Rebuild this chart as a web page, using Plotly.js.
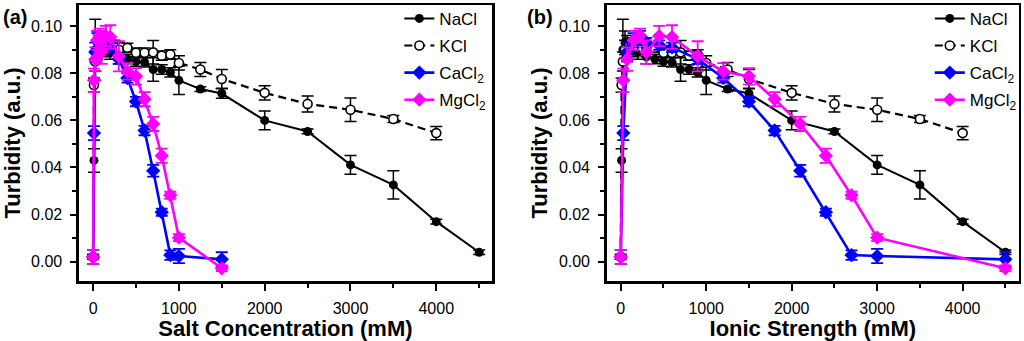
<!DOCTYPE html>
<html>
<head>
<meta charset="utf-8">
<script src="https://cdn.plot.ly/plotly-3.0.1.min.js"></script>
<style>html,body{margin:0;padding:0;background:#fff;}#chart{width:1024px;height:341px;}</style>
</head>
<body>
<div id="chart"></div>
<script>
// ---- Data ----
// NaCl (1:1 salt: ionic strength equals concentration)
const naclConc = [0, 10, 25, 50, 75, 100, 150, 200, 300, 400, 500, 600, 700, 800, 900, 1000, 1250, 1500, 2000, 2500, 3000, 3500, 4000, 4500];
const naclTurb = [0.002, 0.043, 0.090, 0.093, 0.092, 0.091, 0.090, 0.089, 0.087, 0.086, 0.085, 0.0847, 0.0816, 0.0816, 0.0804, 0.0770, 0.0733, 0.0714, 0.0600, 0.0553, 0.0411, 0.0326, 0.0170, 0.0040];
const naclErr  = [0.001, 0.005, 0.013, 0.005, 0.004, 0.003, 0.003, 0.003, 0.003, 0.002, 0.002, 0.002, 0.005, 0.002, 0.002, 0.006, 0.001, 0.002, 0.004, 0.001, 0.004, 0.006, 0.001, 0.001];
const naclIonic = [0, 10, 25, 50, 75, 100, 150, 200, 300, 400, 500, 600, 700, 800, 900, 1000, 1250, 1500, 2000, 2500, 3000, 3500, 4000, 4500];

// KCl
const kclConc = [0, 10, 25, 50, 100, 150, 200, 250, 300, 400, 500, 600, 700, 800, 900, 1000, 1250, 1500, 2000, 2500, 3000, 3500, 4000];
const kclTurb = [0.002, 0.075, 0.085, 0.090, 0.092, 0.092, 0.091, 0.091, 0.090, 0.0908, 0.0887, 0.0887, 0.0889, 0.0875, 0.0880, 0.0844, 0.0816, 0.0776, 0.0717, 0.0670, 0.0645, 0.0606, 0.0546];
const kclErr  = [0.001, 0.003, 0.004, 0.004, 0.003, 0.003, 0.003, 0.003, 0.003, 0.002, 0.002, 0.002, 0.005, 0.002, 0.002, 0.003, 0.003, 0.004, 0.003, 0.0034, 0.005, 0.0015, 0.0028];
const kclIonic = [0, 10, 25, 50, 100, 150, 200, 250, 300, 400, 500, 600, 700, 800, 900, 1000, 1250, 1500, 2000, 2500, 3000, 3500, 4000];

// CaCl2
const caclConc  = [0, 10, 25, 50, 75, 100, 150, 200, 300, 400, 500, 600, 700, 800, 900, 1000, 1500];
const caclIonic = [0, 30, 75, 150, 225, 300, 450, 600, 900, 1200, 1500, 1800, 2100, 2400, 2700, 3000, 4500];
const caclTurb  = [0.002, 0.0546, 0.089, 0.094, 0.095, 0.093, 0.092, 0.091, 0.086, 0.078, 0.068, 0.0557, 0.0386, 0.0210, 0.0028, 0.0024, 0.0010];
const caclErr   = [0.003, 0.003, 0.004, 0.003, 0.003, 0.002, 0.002, 0.002, 0.002, 0.002, 0.002, 0.002, 0.0025, 0.0015, 0.002, 0.003, 0.003];

// MgCl2
const mgclConc  = [0, 10, 25, 50, 75, 100, 150, 200, 300, 400, 500, 600, 700, 800, 900, 1000, 1500];
const mgclIonic = [0, 30, 75, 150, 225, 300, 450, 600, 900, 1200, 1500, 1800, 2100, 2400, 2700, 3000, 4500];
const mgclTurb  = [0.002, 0.077, 0.086, 0.094, 0.096, 0.089, 0.0958, 0.0954, 0.0872, 0.0808, 0.0787, 0.0690, 0.0585, 0.0450, 0.0282, 0.0102, -0.0028];
const mgclErr   = [0.003, 0.005, 0.005, 0.004, 0.003, 0.005, 0.0043, 0.005, 0.0064, 0.0035, 0.0035, 0.003, 0.003, 0.003, 0.0015, 0.0015, 0.0012];

const seriesNames = ['NaCl', 'KCl', 'CaCl<sub>2</sub>', 'MgCl<sub>2</sub>'];
const panelLabels = ['(a)', '(b)'];
const xTitles = ['Salt Concentration (mM)', 'Ionic Strength (mM)'];
const yTitle = 'Turbidity (a.u.)';

// ---- Styles ----
const FONT = 'Liberation Sans, Arial, sans-serif';
const BLUE = '#0000ff', MAG = '#ff00ff', BLK = '#000000';

function mk(x, y, err, name, style, xa, ya, leg, grp) {
  return {
    type: 'scatter', mode: 'lines+markers', x: x, y: y, name: name,
    xaxis: xa, yaxis: ya, legend: leg, legendgroup: grp, showlegend: true,
    line: style.line, marker: style.marker,
    error_y: {type: 'data', array: err, visible: true, color: style.errColor, thickness: style.errThick, width: 6},
    cliponaxis: false
  };
}
const sNa = {line: {color: BLK, width: 2}, marker: {symbol: 'circle', size: 9, color: BLK}, errColor: BLK, errThick: 1.5};
const sK  = {line: {color: BLK, width: 2.2, dash: '8px,5px'}, marker: {symbol: 'circle', size: 9, color: '#ffffff', line: {color: BLK, width: 1.6}}, errColor: BLK, errThick: 1.5};
const sCa = {line: {color: BLUE, width: 2.6}, marker: {symbol: 'diamond', size: 11, color: BLUE}, errColor: BLUE, errThick: 1.8};
const sMg = {line: {color: MAG, width: 2.6}, marker: {symbol: 'diamond', size: 11, color: MAG}, errColor: MAG, errThick: 1.8};

const data = [
  mk(naclConc, naclTurb, naclErr, seriesNames[0], sNa, 'x', 'y', 'legend', 'a1'),
  mk(kclConc, kclTurb, kclErr, seriesNames[1], sK, 'x', 'y', 'legend', 'a2'),
  mk(caclConc, caclTurb, caclErr, seriesNames[2], sCa, 'x', 'y', 'legend', 'a3'),
  mk(mgclConc, mgclTurb, mgclErr, seriesNames[3], sMg, 'x', 'y', 'legend', 'a4'),
  mk(naclIonic, naclTurb, naclErr, seriesNames[0], sNa, 'x2', 'y2', 'legend2', 'b1'),
  mk(kclIonic, kclTurb, kclErr, seriesNames[1], sK, 'x2', 'y2', 'legend2', 'b2'),
  mk(caclIonic, caclTurb, caclErr, seriesNames[2], sCa, 'x2', 'y2', 'legend2', 'b3'),
  mk(mgclIonic, mgclTurb, mgclErr, seriesNames[3], sMg, 'x2', 'y2', 'legend2', 'b4')
];

function xax(domain, anchor, range, title) {
  return {
    domain: domain, anchor: anchor, range: range, tick0: 0, dtick: 1000,
    showline: true, linecolor: BLK, linewidth: 2.5, mirror: true,
    ticks: 'outside', ticklen: 7, tickwidth: 2, tickcolor: BLK, ticklabelstandoff: 4,
    minor: {ticks: 'outside', ticklen: 4, tickwidth: 2, tickcolor: BLK, dtick: 500},
    showgrid: false, zeroline: false,
    tickfont: {family: FONT, size: 16, color: BLK},
    title: {text: title, font: {family: FONT, size: 22, color: BLK, weight: 700}, standoff: 2}
  };
}
function yax(anchor, title) {
  return {
    domain: [0, 1], anchor: anchor, range: [-0.0082, 0.109], tick0: 0, dtick: 0.02, tickformat: '.2f',
    showline: true, linecolor: BLK, linewidth: 2.5, mirror: true,
    ticks: 'outside', ticklen: 6, tickwidth: 2, tickcolor: BLK, ticklabelstandoff: 5,
    minor: {ticks: 'outside', ticklen: 4, tickwidth: 2, tickcolor: BLK, dtick: 0.01},
    showgrid: false, zeroline: false,
    tickfont: {family: FONT, size: 16, color: BLK},
    title: {text: title, font: {family: FONT, size: 22, color: BLK, weight: 700}, standoff: 5}
  };
}
function leg(x) {
  return {x: x, y: 1.015, xref: 'paper', yref: 'paper', xanchor: 'left', yanchor: 'top',
    bgcolor: 'rgba(0,0,0,0)', borderwidth: 0, font: {family: FONT, size: 17, color: BLK},
    traceorder: 'grouped', tracegroupgap: 2, itemwidth: 30};
}

const layout = {
  width: 1024, height: 341,
  margin: {l: 0, r: 0, t: 5, b: 60},
  paper_bgcolor: '#ffffff', plot_bgcolor: '#ffffff',
  showlegend: true,
  xaxis: xax([0.0771, 0.4805], 'y', [-165, 4650], xTitles[0]),
  yaxis: yax('x', yTitle),
  xaxis2: xax([0.5925, 0.995], 'y2', [-164, 4658], xTitles[1]),
  yaxis2: yax('x2', yTitle),
  legend: leg(0.39),
  legend2: leg(0.908),
  annotations: [
    {text: panelLabels[0], xref: 'paper', yref: 'paper', x: 0.001, y: 0.958, xanchor: 'left', yanchor: 'middle', showarrow: false,
     font: {family: FONT, size: 20, color: BLK, weight: 700}},
    {text: panelLabels[1], xref: 'paper', yref: 'paper', x: 0.513, y: 0.958, xanchor: 'left', yanchor: 'middle', showarrow: false,
     font: {family: FONT, size: 20, color: BLK, weight: 700}}
  ]
};

Plotly.newPlot('chart', data, layout, {displayModeBar: false, staticPlot: true});
</script>
</body>
</html>
